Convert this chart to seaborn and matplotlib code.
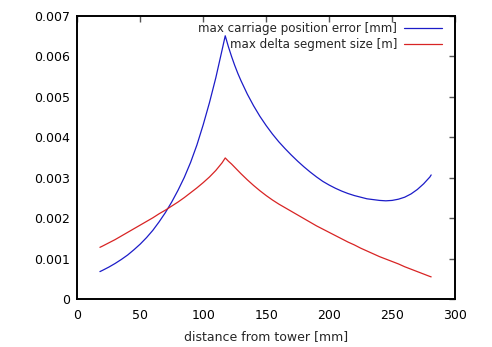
import matplotlib
matplotlib.use("Agg")
import matplotlib.pyplot as plt
import matplotlib.ticker as mticker
import pandas as pd
import seaborn as sns

# distance from tower [mm]
distance = [18, 20, 25, 30, 35, 40, 45, 50, 55, 60, 65, 70, 75, 80, 85, 90,
            95, 100, 105, 110, 115, 117.5, 120, 122.5, 125, 127.5, 130, 135,
            140, 145, 150, 155, 160, 165, 170, 175, 180, 185, 190, 195, 200,
            205, 210, 215, 220, 225, 230, 235, 240, 245, 250, 255, 260, 265,
            270, 275, 280, 281]

# max carriage position error [mm]
carriage_error = [0.00068, 0.00071, 0.00079, 0.00088, 0.00098, 0.00109,
                  0.00122, 0.00136, 0.00152, 0.00170, 0.00191, 0.00214,
                  0.00240, 0.00269, 0.00301, 0.00338, 0.00381, 0.00431,
                  0.00486, 0.00547, 0.00616, 0.00651, 0.00624, 0.00600,
                  0.00578, 0.00558, 0.00540, 0.00507, 0.00478, 0.00452,
                  0.00429, 0.00408, 0.00389, 0.00372, 0.00356, 0.00341,
                  0.00327, 0.00314, 0.00302, 0.00291, 0.00282, 0.00274,
                  0.00267, 0.00261, 0.00256, 0.00252, 0.00248, 0.00246,
                  0.00244, 0.00243, 0.00244, 0.00247, 0.00252, 0.00260,
                  0.00271, 0.00285, 0.00302, 0.00307]

# max delta segment size [m]
segment_size = [0.00128, 0.00131, 0.00139, 0.00147, 0.00156, 0.00165,
                0.00174, 0.00183, 0.00192, 0.00201, 0.00211, 0.00220,
                0.00230, 0.00240, 0.00251, 0.00263, 0.00275, 0.00288,
                0.00302, 0.00318, 0.00337, 0.00349, 0.00341, 0.00334,
                0.00326, 0.00318, 0.00310, 0.00295, 0.00281, 0.00268,
                0.00256, 0.00245, 0.00235, 0.00226, 0.00217, 0.00208,
                0.00199, 0.00190, 0.00181, 0.00173, 0.00165, 0.00157,
                0.00149, 0.00141, 0.00134, 0.00126, 0.00119, 0.00112,
                0.00105, 0.00099, 0.00093, 0.00087, 0.00080, 0.00074,
                0.00068, 0.00062, 0.00056, 0.00055]

series_names = ["max carriage position error [mm]", "max delta segment size [m]"]
series_colors = ["#1c1cc8", "#d82424"]

x_ticks = [0, 50, 100, 150, 200, 250, 300]
y_ticks = [0, 0.001, 0.002, 0.003, 0.004, 0.005, 0.006, 0.007]

df = pd.DataFrame({
    "distance": distance * 2,
    "value": carriage_error + segment_size,
    "series": [series_names[0]] * len(distance) + [series_names[1]] * len(distance),
})

sns.set_style("white")
plt.rcParams["font.family"] = ["DejaVu Sans"]
plt.rcParams["font.size"] = 9

fig = plt.figure(figsize=(4.92, 3.47), dpi=100)
ax = fig.add_axes([0.157, 0.138, 0.768, 0.816])

sns.lineplot(data=df, x="distance", y="value", hue="series",
             palette=series_colors, hue_order=series_names,
             linewidth=0.9, sort=False, ax=ax)

ax.set_xlim(0, 300)
ax.set_ylim(0, 0.007)
ax.set_xticks(x_ticks)
ax.set_yticks(y_ticks)
ax.yaxis.set_major_formatter(mticker.FuncFormatter(lambda v, p: f"{v:g}"))
ax.xaxis.set_major_formatter(mticker.FuncFormatter(lambda v, p: f"{v:g}"))
ax.tick_params(direction="in", length=4.5, width=1.0, color="#555555",
               top=True, right=True, labelsize=9, labelcolor="black")
ax.tick_params(axis="x", pad=7)
ax.tick_params(axis="y", pad=5)
for spine in ax.spines.values():
    spine.set_visible(True)
    spine.set_color("black")
    spine.set_linewidth(1.4)

ax.set_xlabel("distance from tower [mm]", fontsize=9, labelpad=6)
ax.set_ylabel("")

leg = ax.legend(loc="upper right", frameon=False, markerfirst=False,
                fontsize=8.6, handlelength=3.2, handletextpad=0.6,
                borderaxespad=0.2, labelspacing=0.3,
                bbox_to_anchor=(0.985, 1.005))
for t in leg.get_texts():
    t.set_ha("right")

fig.savefig("out.png", dpi=100)
